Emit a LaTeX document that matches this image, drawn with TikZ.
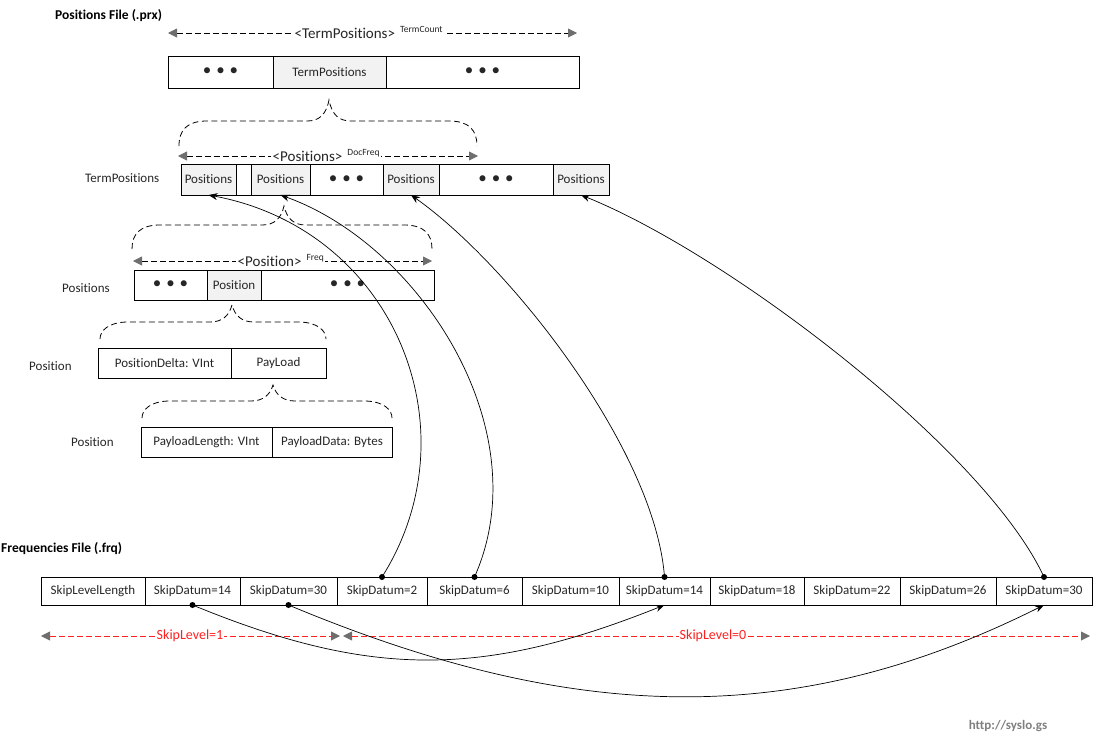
\documentclass[tikz,border=0pt]{standalone}
\usepackage{fontspec}
\setmainfont{Carlito}[Ligatures={NoCommon}]
\usetikzlibrary{arrows.meta}
\definecolor{cellgray}{HTML}{F2F2F2}
\definecolor{txt}{HTML}{262626}
\definecolor{tipgray}{HTML}{6E6E6E}
\definecolor{urlgray}{HTML}{7F7F7F}
\definecolor{skipred}{HTML}{FF2020}
\newcommand\dotsrow{{\fontsize{17}{17}\selectfont\textbullet\hspace{5pt}\textbullet\hspace{5pt}\textbullet}}
\newcommand\supt[1]{\hspace{5pt}\raisebox{6pt}{\fontsize{9.5}{10}\selectfont #1}}
% x0, xpeak, x1, ytop, ymid, ybottom
\newcommand\dashbrace[6]{%
  \draw[bracepath] (#1,#6) .. controls (#1,{#5+9}) and ({#1+8},#5) .. ({#1+28},#5)
    -- ({#2-22},#5) .. controls ({#2-10},#5) and ({#2-3},{#5-6}) .. (#2,#4)
    .. controls ({#2+3},{#5-6}) and ({#2+10},#5) .. ({#2+22},#5)
    -- ({#3-28},#5) .. controls ({#3-8},#5) and (#3,{#5+9}) .. (#3,#6);}
\begin{document}
\begin{tikzpicture}[x=1pt,y=-1pt,
  cell/.style={draw=black, line width=0.9pt, inner sep=0pt, outer sep=0pt, text=txt, font=\fontsize{13}{15}\selectfont},
  gcell/.style={cell, fill=cellgray},
  rowlabel/.style={anchor=west, inner sep=0pt, text=txt, font=\fontsize{13}{15}\selectfont},
  title/.style={anchor=west, inner sep=0pt, text=black, font=\bfseries\fontsize{13.5}{15}\selectfont},
  dimline/.style={line width=0.8pt, dash pattern=on 6pt off 3pt,
    {Triangle[length=9pt,width=9pt,color=tipgray]}-{Triangle[length=9pt,width=9pt,color=tipgray]}},
  dimlabel/.style={fill=white, inner sep=1.5pt, anchor=base west, text=txt, font=\fontsize{15}{17}\selectfont},
  redline/.style={dimline, draw=skipred, line width=0.9pt},
  redlabel/.style={fill=white, inner sep=1pt, text=skipred, font=\fontsize{14}{16}\selectfont},
  bracepath/.style={line width=0.8pt, dash pattern=on 6pt off 3.5pt},
  link/.style={line width=0.7pt, -{Stealth[length=9pt,width=7pt]}},
  pin/.style={fill=black},
]
\useasboundingbox (0,0) rectangle (1093,745);

% ---------- titles ----------
\node[title] (t1) at (55,16) {Positions File (.prx)};
\node[title] (t2) at (1,549) {Frequencies File (.frq)};

% ---------- top dimension ----------
\coordinate (d1a) at (168,33);
\coordinate (d1b) at (577,33);
\draw[dimline] (d1a) -- (d1b);
\node[dimlabel] (d1l) at (293,38) {<TermPositions>\supt{TermCount}};

% ---------- positions file row ----------
\node[cell, minimum width=105pt, minimum height=32pt] (pf1) at (220.5,72) {\dotsrow};
\node[gcell, minimum width=113pt, minimum height=32pt] (pf2) at (329.5,72) {TermPositions};
\node[cell, minimum width=193pt, minimum height=32pt] (pf3) at (482.5,72) {\dotsrow};

% ---------- brace + dimension over TermPositions ----------
\dashbrace{179}{329}{477}{100}{121}{146}
\coordinate (d2a) at (178,156);
\coordinate (d2b) at (478,156);
\draw[dimline] (d2a) -- (d2b);
\node[dimlabel] (d2l) at (271,161) {<Positions>\supt{DocFreq}};

% ---------- TermPositions row ----------
\node[rowlabel] (l1) at (85,178) {TermPositions};
\node[gcell, minimum width=55pt, minimum height=31pt] (tp1) at (208.5,179.5) {Positions};
\node[cell, minimum width=15pt, minimum height=31pt] (tp2) at (243.5,179.5) {};
\node[gcell, minimum width=59pt, minimum height=31pt] (tp3) at (280.5,179.5) {Positions};
\node[cell, minimum width=73pt, minimum height=31pt] (tp4) at (346.5,179.5) {\dotsrow};
\node[gcell, minimum width=56pt, minimum height=31pt] (tp5) at (411,179.5) {Positions};
\node[cell, minimum width=114pt, minimum height=31pt] (tp6) at (496,179.5) {\dotsrow};
\node[gcell, minimum width=56pt, minimum height=31pt] (tp7) at (581,179.5) {Positions};

% ---------- brace + dimension over Positions ----------
\dashbrace{132}{284}{432}{206}{225}{249}
\coordinate (d3a) at (133,261);
\coordinate (d3b) at (432,261);
\draw[dimline] (d3a) -- (d3b);
\node[dimlabel] (d3l) at (236,266) {<Position>\supt{Freq}};

% ---------- Positions row ----------
\node[rowlabel] (l2) at (62,288) {Positions};
\node[cell, minimum width=73pt, minimum height=30pt] (ps1) at (170.5,285) {\dotsrow};
\node[gcell, minimum width=54pt, minimum height=30pt] (ps2) at (234,285) {Position};
\node[cell, minimum width=173pt, minimum height=30pt] (ps3) at (347.5,285) {\dotsrow};

% ---------- Position row 1 ----------
\dashbrace{100}{232}{326}{305}{322}{339}
\node[rowlabel] (l3) at (29,366) {Position};
\node[cell, minimum width=133pt, minimum height=30pt] (p1a) at (164.5,363) {PositionDelta: VInt};
\node[cell, minimum width=95pt, minimum height=30pt] (p1b) at (278.5,363) {PayLoad};

% ---------- Position row 2 ----------
\dashbrace{142}{273}{392}{385}{401}{418}
\node[rowlabel] (l4) at (71,442) {Position};
\node[cell, minimum width=131pt, minimum height=30pt] (p2a) at (206.5,442) {PayloadLength: VInt};
\node[cell, minimum width=120pt, minimum height=30pt] (p2b) at (332,442) {PayloadData: Bytes};

% ---------- Frequencies row ----------
\node[cell, minimum width=104pt, minimum height=28pt] (f1) at (93,591) {SkipLevelLength};
\node[cell, minimum width=95pt, minimum height=28pt] (f2) at (192.5,591) {SkipDatum=14};
\node[cell, minimum width=97pt, minimum height=28pt] (f3) at (288.5,591) {SkipDatum=30};
\node[cell, minimum width=90pt, minimum height=28pt] (f4) at (382,591) {SkipDatum=2};
\node[cell, minimum width=95pt, minimum height=28pt] (f5) at (474.5,591) {SkipDatum=6};
\node[cell, minimum width=97pt, minimum height=28pt] (f6) at (570.5,591) {SkipDatum=10};
\node[cell, minimum width=91pt, minimum height=28pt] (f7) at (664.5,591) {SkipDatum=14};
\node[cell, minimum width=94pt, minimum height=28pt] (f8) at (757,591) {SkipDatum=18};
\node[cell, minimum width=96pt, minimum height=28pt] (f9) at (852,591) {SkipDatum=22};
\node[cell, minimum width=96pt, minimum height=28pt] (f10) at (948,591) {SkipDatum=26};
\node[cell, minimum width=96pt, minimum height=28pt] (f11) at (1044,591) {SkipDatum=30};

% ---------- skip level dimensions ----------
\coordinate (r1a) at (41,636);
\coordinate (r1b) at (340,636);
\coordinate (r2a) at (343,636);
\coordinate (r2b) at (1090,636);
\draw[redline] (r1a) -- (r1b);
\draw[redline] (r2a) -- (r2b);
\node[redlabel] (r1l) at (190,636) {SkipLevel=1};
\node[redlabel] (r2l) at (713,636) {SkipLevel=0};

% ---------- links frq -> prx ----------
\draw[link] (f4.north) .. controls (475,430) and (395,230) .. (tp1.south);
\draw[link] (f5.north) .. controls (540,430) and (420,245) .. (tp3.south);
\draw[link] (f7.north) .. controls (655,450) and (510,265) .. (tp5.south);
\draw[link] (f11.north) .. controls (985,450) and (730,255) .. (tp7.south);
\fill[pin] (f4.north) circle (3pt);
\fill[pin] (f5.north) circle (3pt);
\fill[pin] (f7.north) circle (3pt);
\fill[pin] (f11.north) circle (3pt);

% ---------- skip links ----------
\draw[link] (f2.south) .. controls (370,678) and (482,678) .. (f7.south);
\draw[link] (f3.south) .. controls (580,727) and (800,727) .. (f11.south);
\fill[pin] (f2.south) circle (3pt);
\fill[pin] (f3.south) circle (3pt);

% ---------- url ----------
\node[text=urlgray, font=\bfseries\fontsize{13}{15}\selectfont, inner sep=0pt] (url) at (1008,726) {http://syslo.gs};
\end{tikzpicture}
\end{document}
